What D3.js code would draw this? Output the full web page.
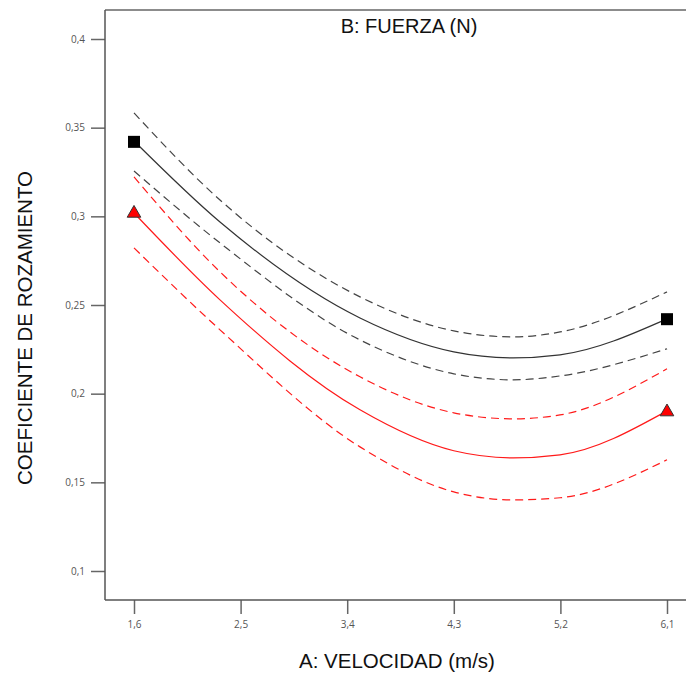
<!DOCTYPE html>
<html>
<head>
<meta charset="utf-8">
<script src="https://cdn.jsdelivr.net/npm/d3@7"></script>
<style>
  body { margin: 0; background: #fff; }
  svg { display: block; }
  .tick text { font-family: "Open Sans", sans-serif; font-size: 10px; fill: #555; }
</style>
</head>
<body>
<svg id="chart" width="686" height="673"></svg>
<script>
// A: velocidad (m/s) where the curves were read
const velocidad = [1.6, 2.326, 3.508, 4.3, 4.8, 5.197, 6.1];

// coefficient of friction, black series (low force) and red series (high force)
const negroMedia    = [0.3425, 0.2968, 0.2427, 0.2236, 0.2202, 0.2219, 0.2422];
const negroSuperior = [0.3583, 0.3092, 0.2546, 0.2354, 0.2320, 0.2348, 0.2574];
const negroInferior = [0.3256, 0.2850, 0.2303, 0.2112, 0.2078, 0.2100, 0.2253];
const rojoMedia     = [0.3019, 0.2529, 0.1909, 0.1678, 0.1638, 0.1655, 0.1903];
const rojoSuperior  = [0.3222, 0.2687, 0.2095, 0.1892, 0.1858, 0.1880, 0.2140];
const rojoInferior  = [0.2822, 0.2360, 0.1700, 0.1446, 0.1401, 0.1413, 0.1627];

// design points
const puntosX = [1.6, 6.1];
const puntosNegro = [0.342, 0.242];
const puntosRojo = [0.302, 0.190];

const xTicks = [1.6, 2.5, 3.4, 4.3, 5.2, 6.1];
const yTicks = [0.1, 0.15, 0.2, 0.25, 0.3, 0.35, 0.4];

const W = 686, H = 673;
const mLeft = 105, mTop = 10, mBottom = 600;

const svg = d3.select("#chart");

const x = d3.scaleLinear().domain([1.6, 6.1]).range([134, 667]);
const y = d3.scaleLinear().domain([0.1, 0.4]).range([571, 39]);

const fmt = d => String(d).replace(".", ",");

// frame: left, top and bottom lines
svg.append("line")
    .attr("x1", mLeft).attr("x2", W).attr("y1", mTop).attr("y2", mTop)
    .attr("stroke", "#666").attr("stroke-width", 1.5);

const xAxis = svg.append("g")
    .attr("transform", `translate(0,${mBottom})`)
    .call(d3.axisBottom(x).tickValues(xTicks).tickFormat(fmt).tickSize(14).tickPadding(7).tickSizeOuter(0));
xAxis.select(".domain").remove();
xAxis.selectAll(".tick line").attr("stroke", "#666").attr("stroke-width", 1.5);
svg.append("line")
    .attr("x1", mLeft).attr("x2", W).attr("y1", mBottom).attr("y2", mBottom)
    .attr("stroke", "#555").attr("stroke-width", 1.5);

const yAxis = svg.append("g")
    .attr("transform", `translate(${mLeft},0)`)
    .call(d3.axisLeft(y).tickValues(yTicks).tickFormat(fmt).tickSize(14).tickPadding(6).tickSizeOuter(0));
yAxis.select(".domain").remove();
yAxis.selectAll(".tick line").attr("stroke", "#666").attr("stroke-width", 1.5);
svg.append("line")
    .attr("x1", mLeft).attr("x2", mLeft).attr("y1", mTop).attr("y2", mBottom)
    .attr("stroke", "#555").attr("stroke-width", 1.5);

// curves
const line = d3.line()
    .x((d, i) => x(velocidad[i]))
    .y(d => y(d))
    .curve(d3.curveMonotoneX);

const series = [
    { v: negroSuperior, color: "#444", dash: "8,5" },
    { v: negroMedia,    color: "#333", dash: null },
    { v: negroInferior, color: "#444", dash: "8,5" },
    { v: rojoSuperior,  color: "#ff1a1a", dash: "8,5" },
    { v: rojoMedia,     color: "#ff1a1a", dash: null },
    { v: rojoInferior,  color: "#ff1a1a", dash: "8,5" }
];

svg.selectAll(".curve")
    .data(series)
    .join("path")
    .attr("class", "curve")
    .attr("d", d => line(d.v))
    .attr("fill", "none")
    .attr("stroke", d => d.color)
    .attr("stroke-width", 1.2)
    .attr("stroke-dasharray", d => d.dash);

// markers
svg.selectAll(".cuadro")
    .data(puntosNegro)
    .join("rect")
    .attr("class", "cuadro")
    .attr("x", (d, i) => x(puntosX[i]) - 6)
    .attr("y", d => y(d) - 6)
    .attr("width", 12).attr("height", 12)
    .attr("fill", "#000");

const tri = d3.symbol().type(d3.symbolTriangle).size(80);
svg.selectAll(".triangulo")
    .data(puntosRojo)
    .join("path")
    .attr("class", "triangulo")
    .attr("d", tri)
    .attr("transform", (d, i) => `translate(${x(puntosX[i])},${y(d) + 0.5})`)
    .attr("fill", "#ff0000")
    .attr("stroke", "#333")
    .attr("stroke-width", 1);

// texts
svg.append("text")
    .attr("x", 409).attr("y", 33)
    .attr("text-anchor", "middle")
    .style("font-family", "Liberation Sans, Arial, sans-serif")
    .style("font-size", "20px")
    .attr("fill", "#111")
    .text("B: FUERZA (N)");

svg.append("text")
    .attr("x", 397).attr("y", 668)
    .attr("text-anchor", "middle")
    .style("font-family", "Liberation Sans, Arial, sans-serif")
    .style("font-size", "20.5px")
    .attr("fill", "#111")
    .text("A: VELOCIDAD (m/s)");

svg.append("text")
    .attr("transform", `translate(32,328) rotate(-90)`)
    .attr("text-anchor", "middle")
    .style("font-family", "Liberation Sans, Arial, sans-serif")
    .style("font-size", "20.5px")
    .attr("fill", "#111")
    .text("COEFICIENTE DE ROZAMIENTO");
</script>
</body>
</html>
